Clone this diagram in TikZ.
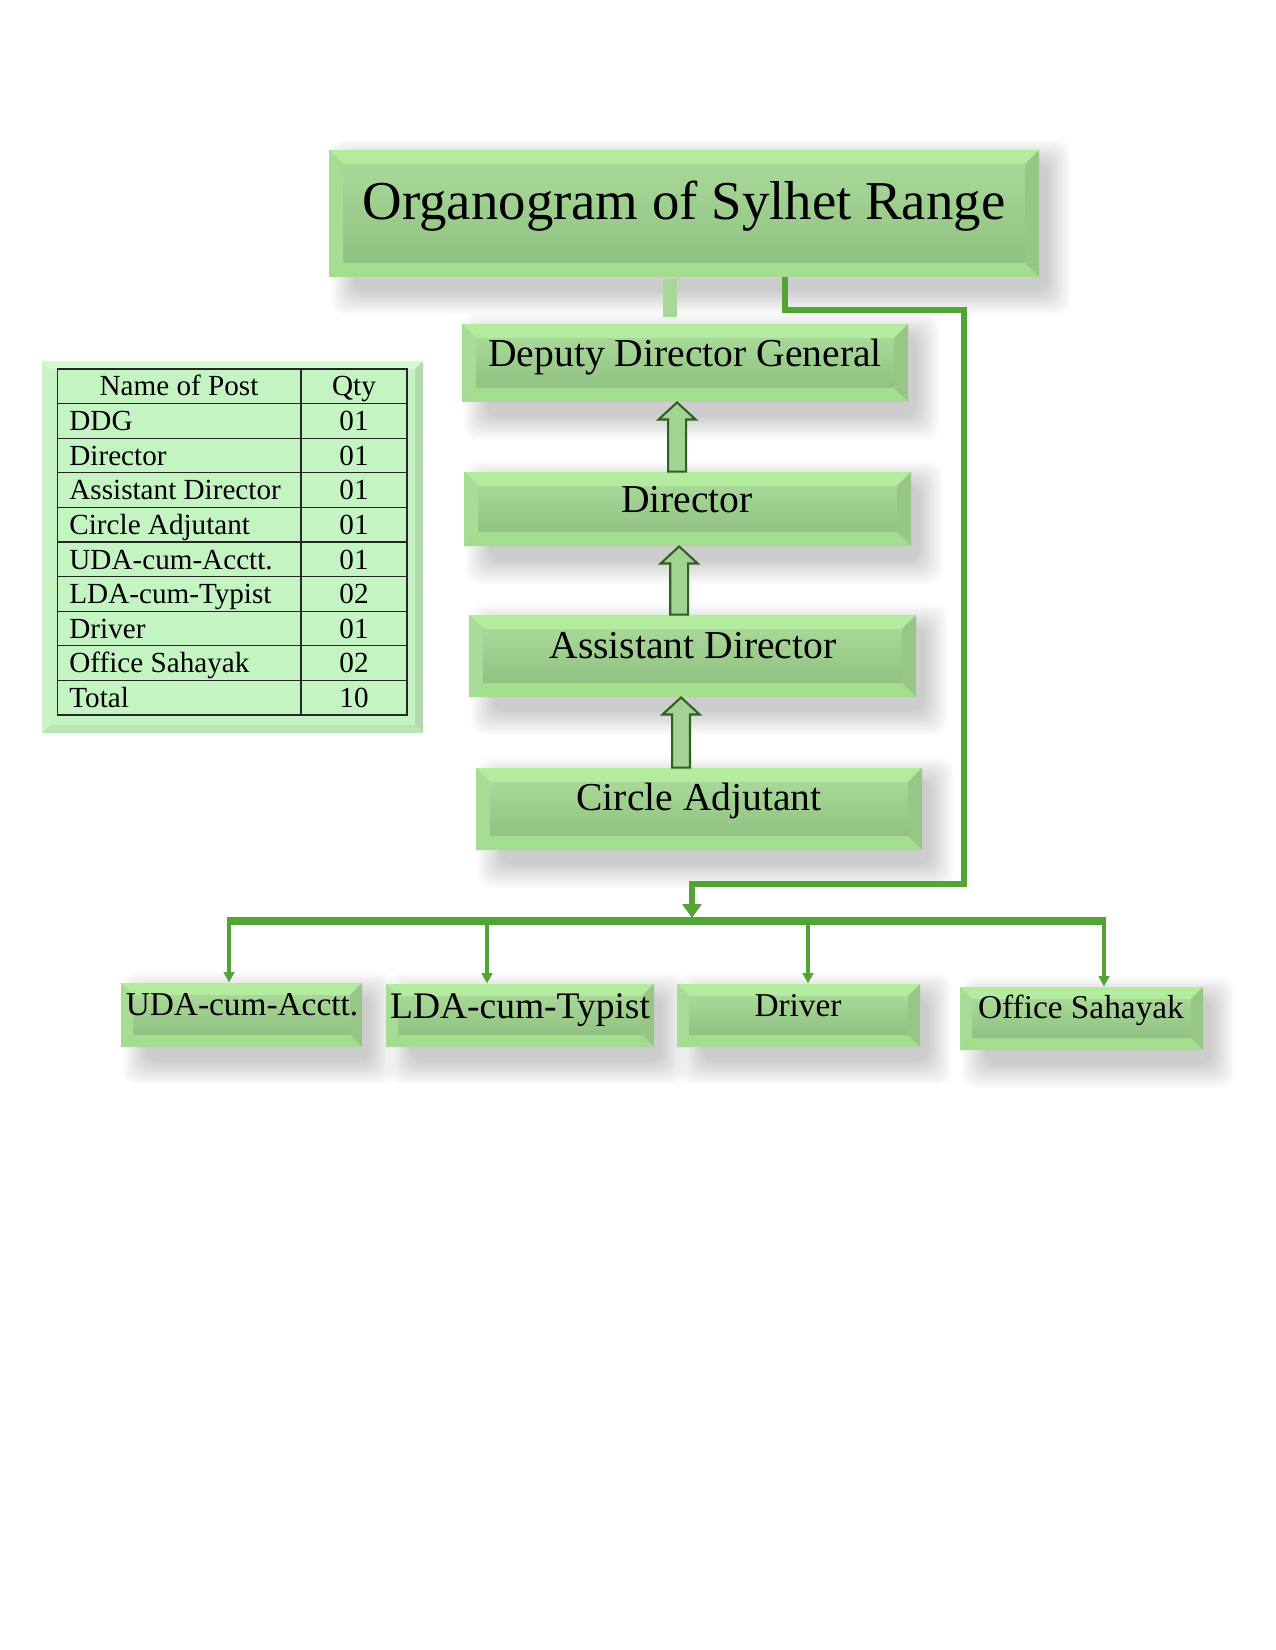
\documentclass[tikz,border=0pt]{standalone}
\usepackage{fontspec}
\setmainfont{Liberation Serif}
\usetikzlibrary{fit,calc,arrows.meta}
\pgfdeclarelayer{bg}
\pgfsetlayers{bg,main}
\definecolor{bevTop}{HTML}{B3EC9E}
\definecolor{bevLeft}{HTML}{A6DC95}
\definecolor{bevRight}{HTML}{97C687}
\definecolor{bevBot}{HTML}{A3DE8F}
\definecolor{faceTop}{HTML}{A8D898}
\definecolor{faceMid}{HTML}{8FBF80}
\definecolor{faceBot}{HTML}{92C283}
\definecolor{lineG}{HTML}{52A535}
\definecolor{stubG}{HTML}{A6D896}
\definecolor{arrFill}{HTML}{A3D393}
\definecolor{arrDraw}{HTML}{2F5F22}
\definecolor{tabFill}{HTML}{C5F4C3}
\definecolor{frT}{HTML}{D8F7D3}
\definecolor{frL}{HTML}{CDF3C8}
\definecolor{frR}{HTML}{B2DCAD}
\definecolor{frB}{HTML}{BCE5B6}
\newcommand\bevelpaint[6]{%
 \coordinate (pA) at (path picture bounding box.north west);
 \coordinate (pB) at (path picture bounding box.north east);
 \coordinate (pC) at (path picture bounding box.south east);
 \coordinate (pD) at (path picture bounding box.south west);
 \coordinate (qA) at ($(pA)+(#1,-#1)$);
 \coordinate (qB) at ($(pB)+(-#1,-#1)$);
 \coordinate (qC) at ($(pC)+(-#1,#1)$);
 \coordinate (qD) at ($(pD)+(#1,#1)$);
 \fill[#2] (pA)--(pB)--(qB)--(qA)--cycle;
 \fill[#3] (pA)--(qA)--(qD)--(pD)--cycle;
 \fill[#4] (pB)--(pC)--(qC)--(qB)--cycle;
 \fill[#5] (pD)--(qD)--(qC)--(pC)--cycle;
 #6}
\newcommand\softshadow[1]{%
 \begin{pgfonlayer}{bg}
 \foreach \k in {0,...,9}{
  \fill[black,opacity=0.02,rounded corners=6pt]
   ($(#1.north west)+(12pt-\k*1.2pt,-6pt+\k*1.2pt)$) rectangle
   ($(#1.south east)+(4pt+\k*1.2pt,-7pt-\k*1.2pt)$);
 }
 \end{pgfonlayer}}
\newcommand\blockup[3]{%
 \draw[blockarr] let \p1=($(#2.south)+(#3,0)$), \p2=(#1.north) in
 (\x1-4.3pt,\y2) -- (\x1-4.3pt,\y1-8.2pt) -- (\x1-8.9pt,\y1-8.2pt) -- (\x1,\y1)
 -- (\x1+8.9pt,\y1-8.2pt) -- (\x1+4.3pt,\y1-8.2pt) -- (\x1+4.3pt,\y2) -- cycle;}
\tikzset{
 boxst/.style={inner sep=0pt, fill=faceBot, path picture={\bevelpaint{7pt}{bevTop}{bevLeft}{bevRight}{bevBot}{\shade[top color=faceTop,middle color=faceMid,bottom color=faceBot] (qA) rectangle (qC);}}},
 smallbox/.style={inner sep=0pt, fill=faceBot, path picture={\bevelpaint{6pt}{bevTop}{bevLeft}{bevRight}{bevBot}{\shade[top color=faceTop,middle color=faceMid,bottom color=faceBot] (qA) rectangle (qC);}}},
 framest/.style={inner sep=0pt, fill=tabFill, path picture={\bevelpaint{3.8pt}{frT}{frL}{frR}{frB}{\fill[tabFill] (qA) rectangle (qC);}}},
 txt/.style={inner sep=0pt, anchor=base, font=\fontsize{#1}{#1}\selectfont},
 tabtxt/.style={inner sep=0pt, font=\fontsize{14}{16}\selectfont},
 gline/.style={draw=lineG, line width=2.5pt},
 busline/.style={draw=lineG, line width=3.8pt},
 dropline/.style={draw=lineG, line width=1.9pt, -{Triangle[width=5pt,length=5pt]}},
 stubst/.style={draw=stubG, line width=6.7pt},
 blockarr/.style={fill=arrFill, draw=arrDraw, line width=1pt, line join=miter},
 tabline/.style={draw=black!85, line width=0.6pt}
}
\begin{document}
\begin{tikzpicture}[x=0.48pt,y=-0.48pt]
\begin{pgfonlayer}{bg}
\fill[white] (0,0) rectangle (1275,1650);
\end{pgfonlayer}
\useasboundingbox (0,0) rectangle (1275,1650);

% main boxes
\node[boxst, fit={(329,150)(1039,277)}] (title) {};
\node[boxst, fit={(462,324)(908,402)}] (ddg) {};
\node[boxst, fit={(464,472)(911,546)}] (dir) {};
\node[boxst, fit={(469,615)(916,697)}] (ad) {};
\node[boxst, fit={(476,768)(922,850)}] (ca) {};
\node[smallbox, fit={(121,983)(362,1047)}] (uda) {};
\node[smallbox, fit={(386,984)(654,1047)}] (lda) {};
\node[smallbox, fit={(677,984)(920,1047)}] (drv) {};
\node[smallbox, fit={(960,987)(1203,1050)}] (osh) {};
\foreach \b in {title,ddg,dir,ad,ca,uda,lda,drv,osh}{\softshadow{\b}}

% texts
\node[txt=26.3] (titleT) at (684,220) {Organogram of Sylhet Range};
\node[txt=19] (ddgT) at (685,367) {Deputy Director General};
\node[txt=19] (dirT) at (687,512) {Director};
\node[txt=19] (adT) at (693,658) {Assistant Director};
\node[txt=19] (caT) at (699,810) {Circle Adjutant};
\node[txt=16] (udaT) at (242,1015) {UDA-cum-Acctt.};
\node[txt=18] (ldaT) at (520,1018) {LDA-cum-Typist};
\node[txt=16] (drvT) at (798,1016) {Driver};
\node[txt=16] (oshT) at (1081,1018) {Office Sahayak};

% block arrows
\blockup{dir}{ddg}{-3.8pt}
\blockup{ad}{dir}{-4pt}
\blockup{ca}{ad}{-5.5pt}

% stub from title to DDG
\draw[stubst, shorten <=1pt, shorten >=3pt] ([xshift=-6.5pt]title.south) -- ([xshift=-6.5pt]title.south |- ddg.north);

% connector to bus
\coordinate (c1) at (964,310);
\coordinate (c2) at (964,884);
\coordinate (busA) at (692,918);
\coordinate (busL) at (229,921);
\coordinate (busR) at (1104,921);
\coordinate (d2) at (487,921);
\coordinate (d3) at (808,921);
\draw[gline, -{Triangle[width=9pt,length=6.7pt]}] ([xshift=48.5pt]title.south) |- (c1) -- (c2) -| (busA);
\draw[busline] ([xshift=-1pt]busL) -- ([xshift=1pt]busR);
\draw[dropline] (busL) -- (busL |- uda.north);
\draw[dropline] (d2) -- (d2 |- lda.north);
\draw[dropline] (d3) -- (d3 |- drv.north);
\draw[dropline] (busR) -- (busR |- osh.north);

% table
\node[framest, fit={(42,361)(423,733)}] (frame) {};
\draw[tabline] (57.5,369) rectangle (407,715);
\foreach \i in {1,...,9}{\draw[tabline] (57.5,{369+34.6*\i}) -- (407,{369+34.6*\i});}
\draw[tabline] (301,369) -- (301,715);
\node[tabtxt, anchor=base] (hName) at (179,396) {Name of Post};
\node[tabtxt, anchor=base] (hQty) at (354,396) {Qty};
\foreach \nm/\q [count=\i] in {DDG/01, Director/01, Assistant Director/01, Circle Adjutant/01, UDA-cum-Acctt./01, LDA-cum-Typist/02, Driver/01, Office Sahayak/02, Total/10}{
  \node[tabtxt, anchor=base west] (tn\i) at (69,{396+34.6*\i}) {\nm};
  \node[tabtxt, anchor=base] (tq\i) at (354,{396+34.6*\i}) {\q};
}
\end{tikzpicture}
\end{document}
